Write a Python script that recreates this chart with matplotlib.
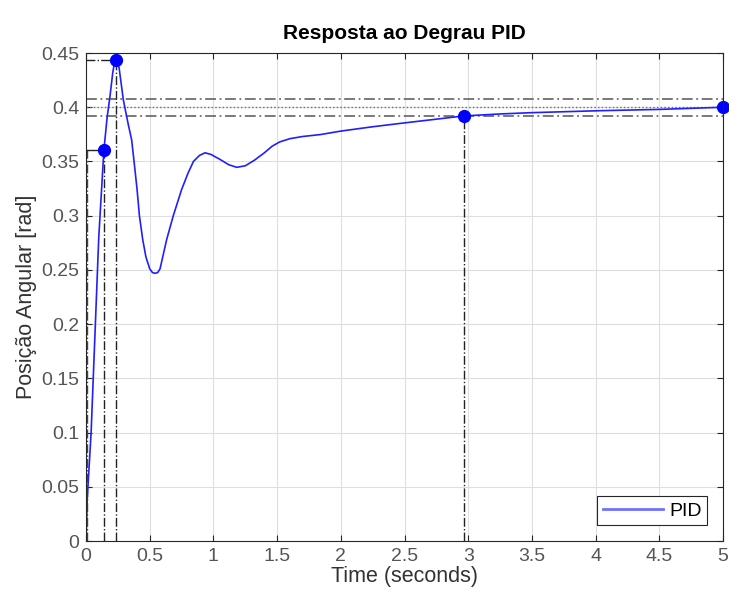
import numpy as np
import matplotlib.pyplot as plt

# step response
t = [0, 0.01, 0.04, 0.07, 0.10, 0.125, 0.14, 0.165, 0.188, 0.21, 0.222, 0.235,
     0.248, 0.26, 0.293, 0.33, 0.358, 0.377, 0.40, 0.419, 0.445, 0.47, 0.50,
     0.522, 0.542, 0.562, 0.581, 0.633, 0.685, 0.75, 0.80, 0.843, 0.89, 0.934,
     0.98, 1.05, 1.12, 1.183, 1.25, 1.32, 1.40, 1.46, 1.52, 1.60, 1.70, 1.84,
     2.0, 2.25, 2.46, 2.75, 2.967, 3.25, 3.5, 4.03, 4.5, 5.0]
y = [0, 0.04, 0.10, 0.19, 0.28, 0.33, 0.36, 0.39, 0.41, 0.432, 0.440, 0.4436,
     0.4415, 0.436, 0.4067, 0.385, 0.37, 0.35, 0.325, 0.30, 0.278, 0.262, 0.251,
     0.2475, 0.2469, 0.2475, 0.251, 0.278, 0.30, 0.324, 0.339, 0.35, 0.3555,
     0.358, 0.3565, 0.352, 0.347, 0.3446, 0.346, 0.351, 0.358, 0.364, 0.368,
     0.371, 0.373, 0.3748, 0.378, 0.382, 0.385, 0.389, 0.392, 0.3938, 0.395,
     0.3968, 0.398, 0.400]

final_val = 0.400
band = [0.392, 0.408]
rise_t = [0.01, 0.14]
rise_y = 0.3606
peak_t, peak_y = 0.235, 0.4436
settle_t, settle_y = 2.967, 0.392

xticks = np.arange(0, 5.01, 0.5)
yticks = np.arange(0, 0.451, 0.05)
xlabels = ['0', '0.5', '1', '1.5', '2', '2.5', '3', '3.5', '4', '4.5', '5']
ylabels = ['0', '0.05', '0.1', '0.15', '0.2', '0.25', '0.3', '0.35', '0.4', '0.45']

plt.rcParams['font.family'] = ['Liberation Sans', 'DejaVu Sans']

fig = plt.figure(figsize=(7.29, 5.99), dpi=100)
ax = fig.add_axes([0.1180, 0.0968, 0.8738, 0.8147])

# settling band + final value
ax.axhline(band[1], color='#6e6e6e', ls=(0, (6, 2, 1, 2)), lw=1.3)
ax.axhline(band[0], color='#6e6e6e', ls=(0, (6, 2, 1, 2)), lw=1.3)
ax.axhline(final_val, color='#6e6e6e', ls=':', lw=1.0)

# rise time
ax.plot([rise_t[0], rise_t[0]], [0, rise_y], color='#444444', ls='-.', lw=1)
ax.plot([0, rise_t[1]], [rise_y, rise_y], color='#222222', ls='-', lw=1)
ax.plot([rise_t[1], rise_t[1]], [0, rise_y], color='#222222', ls='-.', lw=1)
# peak
ax.plot([peak_t, peak_t], [0, peak_y], color='#222222', ls='-.', lw=1)
ax.plot([0, peak_t], [peak_y, peak_y], color='#222222', ls='-.', lw=1)
# settling time
ax.plot([settle_t, settle_t], [0, settle_y], color='#222222', ls='-.', lw=1)

ax.plot(t, y, color='#2020ff', lw=1.2, label='PID')
ax.plot([rise_t[1], peak_t, settle_t, 5.0], [rise_y, peak_y, settle_y, final_val],
        'o', color='#0000ff', ms=8.5, clip_on=False)

ax.set_xlim(0, 5)
ax.set_ylim(0, 0.45)
ax.set_xticks(xticks)
ax.set_xticklabels(xlabels)
ax.set_yticks(yticks)
ax.set_yticklabels(ylabels)
ax.tick_params(direction='in', length=4, colors='#262626', labelsize=14,
               labelcolor='#555555', top=True, right=True, pad=5)
ax.grid(True, color='#dedede', lw=0.8)
for s in ax.spines.values():
    s.set_color('#262626')
    s.set_linewidth(0.8)

ax.set_title('Resposta ao Degrau PID', fontsize=15, fontweight='bold', pad=10)
ax.set_xlabel('Time (seconds)', fontsize=15.5, color='#333333', labelpad=1)
ax.set_ylabel('Posição Angular [rad]', fontsize=15.5, color='#333333', labelpad=3)

leg = ax.legend(loc='lower right', fontsize=14, fancybox=False, framealpha=1,
                edgecolor='#262626', handlelength=3.1, handletextpad=0.3,
                borderpad=0.3, borderaxespad=0.8)
leg.get_lines()[0].set_color('#7070ff')
leg.get_lines()[0].set_linewidth(2)
leg.get_frame().set_linewidth(0.8)

fig.savefig('out.png', dpi=100)
